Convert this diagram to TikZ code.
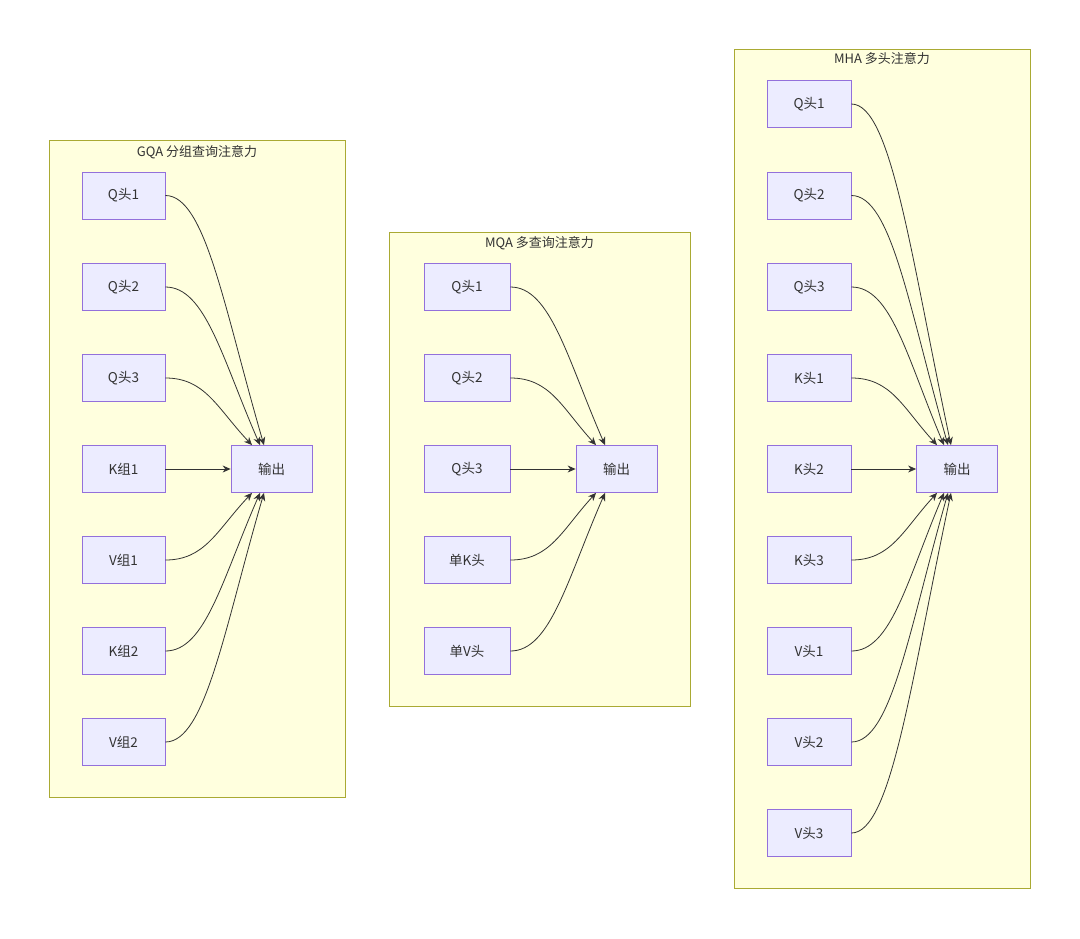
\documentclass[tikz,border=0pt]{standalone}
\usepackage{fontspec}
\setmainfont{Noto Sans CJK SC}
\usepackage{xcolor}
\usepackage{tikz}
\usetikzlibrary{arrows.meta, positioning}
\definecolor{clusterfill}{HTML}{FFFFDE}
\definecolor{clusterline}{HTML}{AAAA33}
\definecolor{headfill}{HTML}{ECECFF}
\definecolor{headline}{HTML}{9370DB}
\definecolor{edgegray}{HTML}{333333}
\tikzstyle{cluster} = [
    rectangle,
    draw=clusterline,
    fill=clusterfill,
    line width=0.8pt,
    inner sep=0pt
]
\tikzstyle{title} = [
    font=\fontsize{13}{15}\selectfont,
    text=edgegray
]
\tikzstyle{head} = [
    rectangle,
    minimum height=47pt,
    inner sep=0pt,
    draw=headline,
    fill=headfill,
    line width=0.8pt,
    text=edgegray,
    font=\fontsize{13.5}{15}\selectfont
]
\tikzstyle{arrow} = [
    line width=0.8pt,
    -{Stealth[length=8pt, width=7pt]},
    color=edgegray
]

\begin{document}
\begin{tikzpicture}[x=1pt, y=-1pt]
        \useasboundingbox[fill=white] (0,0) rectangle (1080,938);
        % Clusters
        \node[cluster, minimum width=296pt, minimum height=657pt] (gqa) at (197, 468.5) {};
        \node[cluster, minimum width=301pt, minimum height=474pt] (mqa) at (539.5, 469) {};
        \node[cluster, minimum width=296pt, minimum height=839pt] (mha) at (882, 468.5) {};
        \node[title] (gqatitle) at (197, 152) {GQA 分组查询注意力};
        \node[title] (mqatitle) at (539.5, 243) {MQA 多查询注意力};
        \node[title] (mhatitle) at (882, 59) {MHA 多头注意力};

        % GQA nodes
        \node[head, minimum width=83pt] (gq1) at (123.5, 195.5) {Q头1};
        \node[head, minimum width=83pt] (gq2) at (123.5, 287) {Q头2};
        \node[head, minimum width=83pt] (gq3) at (123.5, 378) {Q头3};
        \node[head, minimum width=83pt] (gk1) at (123.5, 469) {K组1};
        \node[head, minimum width=83pt] (gv1) at (123.5, 560) {V组1};
        \node[head, minimum width=83pt] (gk2) at (123.5, 651) {K组2};
        \node[head, minimum width=83pt] (gv2) at (123.5, 742) {V组2};
        \node[head, minimum width=81pt] (gout) at (271.5, 469) {输出};

        % MQA nodes
        \node[head, minimum width=86pt] (mq1) at (467, 287) {Q头1};
        \node[head, minimum width=86pt] (mq2) at (467, 378) {Q头2};
        \node[head, minimum width=86pt] (mq3) at (467, 469) {Q头3};
        \node[head, minimum width=86pt] (mk) at (467, 560) {单K头};
        \node[head, minimum width=86pt] (mv) at (467, 651) {单V头};
        \node[head, minimum width=81pt] (mout) at (616.5, 469) {输出};

        % MHA nodes
        \node[head, minimum width=84pt] (hq1) at (809, 104) {Q头1};
        \node[head, minimum width=84pt] (hq2) at (809, 195.5) {Q头2};
        \node[head, minimum width=84pt] (hq3) at (809, 287) {Q头3};
        \node[head, minimum width=84pt] (hk1) at (809, 378) {K头1};
        \node[head, minimum width=84pt] (hk2) at (809, 469) {K头2};
        \node[head, minimum width=84pt] (hk3) at (809, 560) {K头3};
        \node[head, minimum width=84pt] (hv1) at (809, 651) {V头1};
        \node[head, minimum width=84pt] (hv2) at (809, 742) {V头2};
        \node[head, minimum width=84pt] (hv3) at (809, 833) {V头3};
        \node[head, minimum width=81pt] (hout) at (957, 469) {输出};

        % GQA arrows
        \draw[arrow] (gq1.east) .. controls +(40,0) and +(-40,-137) .. ([xshift=-7.5pt]gout.north);
        \draw[arrow] (gq2.east) .. controls +(40,0) and +(-38,-87) .. ([xshift=-11.5pt]gout.north);
        \draw[arrow] (gq3.east) .. controls +(40,0) and +(-35,-37) .. ([xshift=-19.5pt]gout.north);
        \draw[arrow] (gk1) -- (gout);
        \draw[arrow] (gv1.east) .. controls +(40,0) and +(-35,37) .. ([xshift=-19.5pt]gout.south);
        \draw[arrow] (gk2.east) .. controls +(40,0) and +(-38,87) .. ([xshift=-11.5pt]gout.south);
        \draw[arrow] (gv2.east) .. controls +(40,0) and +(-40,137) .. ([xshift=-7.5pt]gout.south);

        % MQA arrows
        \draw[arrow] (mq1.east) .. controls +(40,0) and +(-38,-87) .. ([xshift=-11.5pt]mout.north);
        \draw[arrow] (mq2.east) .. controls +(40,0) and +(-34,-37) .. ([xshift=-20.5pt]mout.north);
        \draw[arrow] (mq3) -- (mout);
        \draw[arrow] (mk.east) .. controls +(40,0) and +(-34,37) .. ([xshift=-20.5pt]mout.south);
        \draw[arrow] (mv.east) .. controls +(40,0) and +(-38,87) .. ([xshift=-11.5pt]mout.south);

        % MHA arrows
        \draw[arrow] (hq1.east) .. controls +(40,0) and +(-40,-188) .. ([xshift=-6pt]hout.north);
        \draw[arrow] (hq2.east) .. controls +(40,0) and +(-39,-137) .. ([xshift=-9pt]hout.north);
        \draw[arrow] (hq3.east) .. controls +(40,0) and +(-37,-87) .. ([xshift=-13pt]hout.north);
        \draw[arrow] (hk1.east) .. controls +(40,0) and +(-34,-37) .. ([xshift=-20pt]hout.north);
        \draw[arrow] (hk2) -- (hout);
        \draw[arrow] (hk3.east) .. controls +(40,0) and +(-34,37) .. ([xshift=-20pt]hout.south);
        \draw[arrow] (hv1.east) .. controls +(40,0) and +(-37,87) .. ([xshift=-13pt]hout.south);
        \draw[arrow] (hv2.east) .. controls +(40,0) and +(-39,137) .. ([xshift=-9pt]hout.south);
        \draw[arrow] (hv3.east) .. controls +(40,0) and +(-40,188) .. ([xshift=-6pt]hout.south);
    \end{tikzpicture}
\end{document}
